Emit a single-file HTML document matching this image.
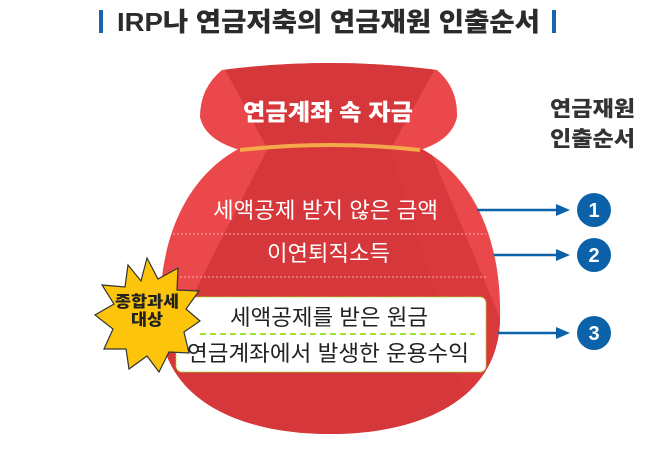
<!DOCTYPE html>
<html><head><meta charset="utf-8"><style>
body{margin:0;background:#fff;}
svg{display:block;font-family:"Liberation Sans","Noto Sans CJK KR",sans-serif;}
</style></head><body>
<svg width="658" height="455" viewBox="0 0 658 455">
<defs>
<clipPath id="body"><path d="M240,148 C180,180 158,250 160,320 C162,400 240,434 330,434 C420,434 498,400 500,320 C502,250 480,180 420,148 Z"/></clipPath>
<clipPath id="knot"><path d="M222,70 Q330,56 437,70 Q458,88 457,117 Q452,140 420,150 L240,150 Q205,140 200,117 Q200,88 222,70Z"/></clipPath>
</defs>
<rect x="99" y="10" width="4" height="23" fill="#1a64b0"/>
<rect x="552" y="10" width="4" height="23" fill="#1a64b0"/>
<text x="117" y="31" font-size="26" font-weight="900" fill="#2b2b2b" textLength="423" lengthAdjust="spacingAndGlyphs">IRP나 연금저축의 연금재원 인출순서</text>
<g clip-path="url(#knot)">
<rect x="190" y="50" width="280" height="110" fill="#ea484b"/>
<polygon points="220,60 440,60 390,150 268,150" fill="#d5373a"/>
</g>
<g clip-path="url(#body)">
<rect x="150" y="140" width="360" height="300" fill="#ea484b"/>
<polygon points="268,148 390,148 500,360 500,440 160,440 160,360" fill="#d5373a"/>
<polygon points="390,148 430,150 505,330 505,440 480,440" fill="#d9393c"/>
</g>
<path d="M240,150 Q330,140 420,150" stroke="#f5a94a" stroke-width="4" fill="none"/>
<text x="243" y="120" font-size="23" font-weight="900" fill="#fff" textLength="170" lengthAdjust="spacingAndGlyphs">연금계좌 속 자금</text>
<text x="213" y="218" font-size="22" fill="#fff" textLength="225" lengthAdjust="spacingAndGlyphs">세액공제 받지 않은 금액</text>
<line x1="173" y1="234" x2="486" y2="234" stroke="#f4b0b0" stroke-width="1" stroke-dasharray="2,2"/>
<text x="267" y="261" font-size="22" fill="#fff" textLength="123" lengthAdjust="spacingAndGlyphs">이연퇴직소득</text>
<line x1="176" y1="277" x2="486" y2="277" stroke="#f4b0b0" stroke-width="1" stroke-dasharray="2,2"/>
<rect x="176" y="297" width="310" height="75" rx="6" fill="#fff" stroke="#9ee22a" stroke-width="1" stroke-dasharray="2,1"/>
<line x1="200" y1="334" x2="475" y2="334" stroke="#9ee22a" stroke-width="2" stroke-dasharray="6,4"/>
<text x="230" y="325" font-size="22" fill="#222" textLength="198" lengthAdjust="spacingAndGlyphs">세액공제를 받은 원금</text>
<text x="187" y="361" font-size="22" fill="#222" textLength="282" lengthAdjust="spacingAndGlyphs">연금계좌에서 발생한 운용수익</text>
<polygon fill="#fcc50c" stroke="#333" stroke-width="1.2" points="147,258 158,279 178,268 177,290 199,291 186,309 200,321 184,332 189,353 169,352 159,372 147,356 129,369 126,349 104,349 113,329 95,315 114,304 102,285 125,287 128,265 141,281"/>
<text x="115" y="307" font-size="16" font-weight="900" fill="#222" textLength="64" lengthAdjust="spacingAndGlyphs">종합과세</text>
<text x="131" y="325" font-size="16" font-weight="900" fill="#222" textLength="32" lengthAdjust="spacingAndGlyphs">대상</text>
<text x="550" y="116" font-size="21" font-weight="900" fill="#333" textLength="85" lengthAdjust="spacingAndGlyphs">연금재원</text>
<text x="550" y="146" font-size="21" font-weight="900" fill="#333" textLength="85" lengthAdjust="spacingAndGlyphs">인출순서</text>
<g stroke="#0b62a8" stroke-width="2.5" fill="#0b62a8">
<line x1="477" y1="210" x2="560" y2="210"/><polygon points="570,210 556,204 556,216" stroke="none"/>
<line x1="494" y1="255" x2="560" y2="255"/><polygon points="570,255 556,249 556,261" stroke="none"/>
<line x1="498" y1="333" x2="560" y2="333"/><polygon points="570,333 556,327 556,339" stroke="none"/>
</g>
<g fill="#0b62a8"><circle cx="594" cy="210" r="17"/><circle cx="594" cy="255" r="17"/><circle cx="594" cy="333" r="17"/></g>
<g fill="#fff" font-size="20" font-weight="900" text-anchor="middle">
<text x="594" y="217">1</text><text x="594" y="262">2</text><text x="594" y="340">3</text></g>
</svg>
</body></html>
